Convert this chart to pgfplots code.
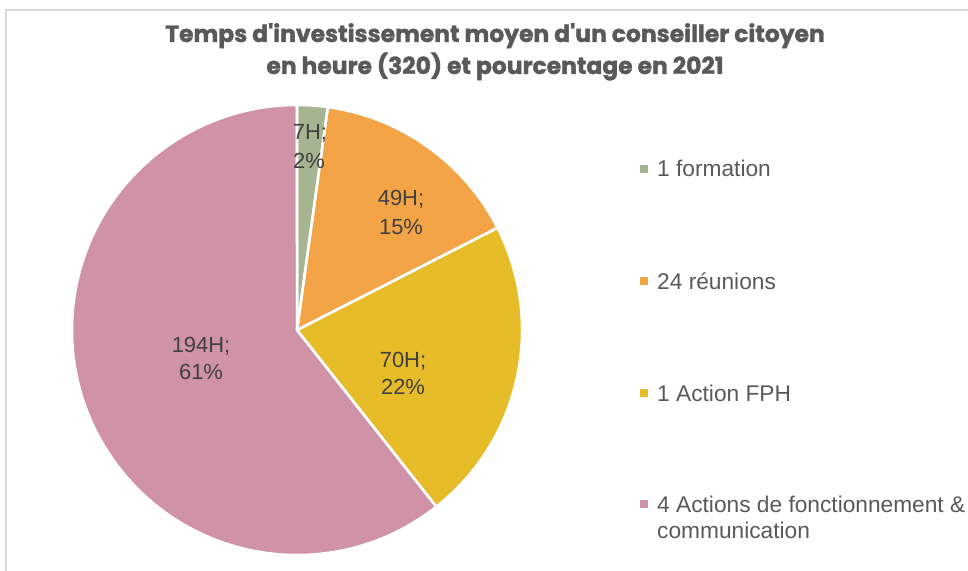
\documentclass[border=0pt]{standalone}
\usepackage{pgfplots}
\pgfplotsset{compat=1.18}
\usepackage{fontspec}
\setmainfont{Liberation Sans}
\newfontfamily\titlefont{Poppins}[BoldFeatures={FakeBold=1.5}]
\definecolor{cgreen}{RGB}{165,181,146}
\definecolor{corange}{RGB}{243,164,71}
\definecolor{cyellow}{RGB}{231,188,41}
\definecolor{cpink}{RGB}{208,146,167}
\definecolor{lbl}{RGB}{64,64,64}
\definecolor{leg}{RGB}{89,89,89}
\definecolor{frame}{RGB}{217,217,217}
% values (hours): 7, 49, 70, 194 ; total 320
\def\wedge#1#2{(297,241) -- ++(#1:225bp) arc[start angle=#1, delta angle=#2, radius=225bp] -- cycle}
\begin{document}
\begin{tikzpicture}[x=1bp,y=1bp]
\useasboundingbox (0,0) rectangle (968,571);
\begin{axis}[at={(0,0)},anchor=south west, scale only axis, width=968bp, height=571bp,
  xmin=0,xmax=968,ymin=0,ymax=571, hide axis, clip=true]
\draw[frame, line width=2bp] (6,-20) -- (6,561) -- (990,561);
% slices, clockwise from 12 o'clock
\fill[cgreen]  \wedge{90}{-7/320*360};
\fill[corange] \wedge{90-7/320*360}{-49/320*360};
\fill[cyellow] \wedge{90-56/320*360}{-70/320*360};
\fill[cpink]   \wedge{90-126/320*360}{-194/320*360};
\draw[white, line width=2.5bp, line join=round] \wedge{90}{-7/320*360};
\draw[white, line width=2.5bp, line join=round] \wedge{90-7/320*360}{-49/320*360};
\draw[white, line width=2.5bp, line join=round] \wedge{90-56/320*360}{-70/320*360};
\draw[white, line width=2.5bp, line join=round] \wedge{90-126/320*360}{-194/320*360};
% data labels
\begin{scope}[every node/.style={font=\fontsize{22}{24}\selectfont, text=lbl, anchor=base, inner sep=0pt}]
\node at (310,431) {7H;};   \node at (309,402) {2\%};
\node at (401,365) {49H;};  \node at (401,336) {15\%};
\node at (403,203) {70H;};  \node at (403,176) {22\%};
\node at (201,218) {194H;}; \node at (201,191) {61\%};
\end{scope}
% legend
\fill[cgreen]  (640,398) rectangle (648,406);
\fill[corange] (640,286) rectangle (648,294);
\fill[cyellow] (640,174) rectangle (648,182);
\fill[cpink]   (640,63)  rectangle (648,71);
\begin{scope}[every node/.style={font=\fontsize{22.8}{24}\selectfont, text=leg, anchor=base west, inner sep=0pt}]
\node at (657,394) {1 formation};
\node at (657,281) {24 réunions};
\node at (657,169) {1 Action FPH};
\node at (657,58) {4 Actions de fonctionnement \&};
\node at (657,32) {communication};
\end{scope}
% title
\begin{scope}[every node/.style={font=\titlefont\bfseries\fontsize{23.5}{26}\selectfont, text=leg, anchor=base, inner sep=0pt}]
\node at (495,529) {Temps d'investissement moyen d'un conseiller citoyen};
\node at (495,497) {en heure (320) et pourcentage en 2021};
\end{scope}
\end{axis}
\end{tikzpicture}
\end{document}
